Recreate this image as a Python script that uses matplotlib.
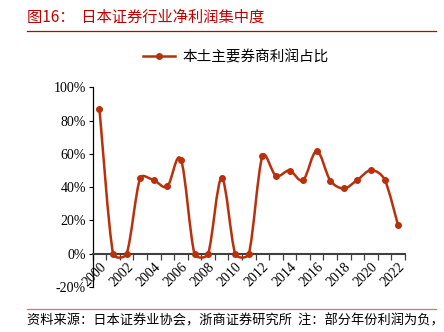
"""
日本证券行业净利润集中度 (图16) - re-drawn with matplotlib.
"""

import numpy as np
import matplotlib
matplotlib.use("Agg")
import matplotlib.pyplot as plt
from matplotlib.path import Path
from matplotlib.patches import PathPatch
from matplotlib.lines import Line2D
from matplotlib.ticker import FixedLocator, FuncFormatter

# ============================================================
# Data
# ============================================================
years = list(range(2000, 2023))
share = [0.867, 0.0, 0.0, 0.455, 0.442, 0.405, 0.566, 0.0, 0.0, 0.455,
         0.0, 0.0, 0.586, 0.468, 0.500, 0.442, 0.618, 0.440, 0.392, 0.444,
         0.502, 0.446, 0.170]
tick_years = list(range(2000, 2023, 2))

title = "图16：  日本证券行业净利润集中度"
series_name = "本土主要券商利润占比"
source = "资料来源：日本证券业协会，浙商证券研究所  注：部分年份利润为负，"

LINE_C = "#B8300C"
RED = "#C00000"

plt.rcParams["font.family"] = ["Noto Sans CJK SC", "DejaVu Sans"]


def handle(v, t, cap):
    # Catmull-Rom handle, capped to a share of the segment length
    h = v * t
    n = np.hypot(*h)
    return h * (cap / n) if n > cap else h


def smooth_path(ax, xs, ys, t=1 / 6, k=0.4):
    """Excel-like smoothed line, built in screen space."""
    pts = ax.transData.transform(np.column_stack([xs, ys]))
    n = len(pts)
    verts = [pts[0]]
    codes = [Path.MOVETO]
    for i in range(n - 1):
        p0 = pts[i - 1] if i > 0 else pts[i]
        p1, p2 = pts[i], pts[i + 1]
        p3 = pts[i + 2] if i + 2 < n else pts[i + 1]
        d = np.hypot(*(p2 - p1))
        c1 = p1 + handle(p2 - p0, t, k * d)
        c2 = p2 - handle(p3 - p1, t, k * d)
        verts += [c1, c2, p2]
        codes += [Path.CURVE4] * 3
    return Path(verts, codes)


fig = plt.figure(figsize=(4.44, 3.32), dpi=100)
ax = fig.add_axes([0.2088, 0.1355, 0.7032, 0.6015])
ax.set_xlim(1999.5, 2022.5)
ax.set_ylim(-0.2, 1.0)

# Smoothed line (path in display coords) + markers
path = smooth_path(ax, years, share)
ax.add_patch(PathPatch(path, transform=None, fill=False, edgecolor=LINE_C,
                       lw=1.8, clip_on=False, zorder=3))
ax.plot(years, share, "o", color=LINE_C, ms=4, zorder=4)

# Axes styling
for s in ["top", "right"]:
    ax.spines[s].set_visible(False)
ax.spines["bottom"].set_position(("data", 0))
ax.spines["bottom"].set_color("#404040")
ax.spines["bottom"].set_linewidth(1.5)
ax.spines["left"].set_color("#000000")
ax.spines["left"].set_linewidth(0.9)

ax.yaxis.set_major_locator(FixedLocator(np.arange(-0.2, 1.01, 0.2)))
ax.yaxis.set_major_formatter(FuncFormatter(lambda v, p: f"{v * 100:.0f}%"))
ax.tick_params(axis="y", direction="out", length=3, width=0.8, pad=2,
               labelsize=10, labelfontfamily="Liberation Serif")

ax.xaxis.set_major_locator(FixedLocator(tick_years))
ax.xaxis.set_minor_locator(FixedLocator(np.arange(1999.5, 2023, 1)))
ax.tick_params(axis="x", which="major", length=0, pad=5, labelsize=10,
               labelfontfamily="Liberation Serif")
ax.tick_params(axis="x", which="minor", direction="out", length=4,
               width=0.9, color="#404040")
for lab in ax.get_xticklabels():
    lab.set_rotation(45)
    lab.set_ha("right")
    lab.set_va("top")
    lab.set_rotation_mode("anchor")

# Legend
leg_handle = Line2D([], [], color=LINE_C, lw=1.8, marker="o", ms=4)
fig.legend([leg_handle], [series_name], loc="center",
           bbox_to_anchor=(236 / 444, 1 - 57 / 332), frameon=False,
           fontsize=10.5, handlelength=2.2, handletextpad=0.5)

# Title, rules, source
fig.text(27 / 444, 1 - 17 / 332, title, color=RED, fontsize=11, va="center")
fig.add_artist(Line2D([27 / 444, 436 / 444], [1 - 31 / 332] * 2,
                      color=RED, lw=0.9))
fig.add_artist(Line2D([27 / 444, 436 / 444], [1 - 309 / 332] * 2,
                      color="#E07070", lw=0.9))
fig.text(27 / 444, 1 - 321 / 332, source, fontsize=9.5, va="center")

fig.savefig("out.png", dpi=100)
